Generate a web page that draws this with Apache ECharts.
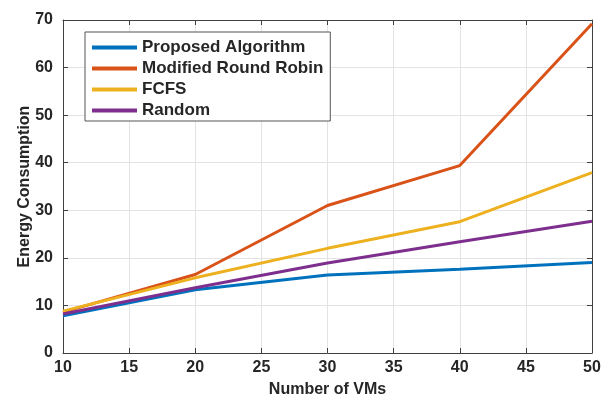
<!DOCTYPE html>
<html>
<head>
<meta charset="utf-8">
<script src="https://cdn.jsdelivr.net/npm/echarts@6/dist/echarts.min.js"></script>
<style>html,body{margin:0;padding:0;background:#fff}#c{width:605px;height:398px}</style>
</head>
<body>
<div id="c"></div>
<script>
var vms = [10, 20, 30, 40, 50];
var proposed = [7.8, 13.3, 16.4, 17.6, 19.0];
var modifiedRR = [8.6, 16.5, 31.0, 39.4, 69.2];
var fcfs = [8.8, 15.8, 22.0, 27.6, 37.9];
var randomAlg = [8.2, 13.7, 18.9, 23.4, 27.7];
var seriesNames = ['Proposed Algorithm', 'Modified Round Robin', 'FCFS', 'Random'];
var colors = ['#0072BD', '#D95319', '#EDB120', '#7E2F8E'];

function pairs(ys) { return vms.map(function (x, i) { return [x, ys[i]]; }); }

var FONT = '"Liberation Sans", Arial, Helvetica, sans-serif';
var axisCol = '#404040';
var textCol = '#262626';

var chart = echarts.init(document.getElementById('c'), null, {renderer: 'canvas'});
var allData = [proposed, modifiedRR, fcfs, randomAlg];
var series = allData.map(function (d, i) {
  return {
    name: seriesNames[i], type: 'line', data: pairs(d), xAxisIndex: 0, yAxisIndex: 0,
    showSymbol: false, symbol: 'none',
    lineStyle: {color: colors[i], width: 3}, itemStyle: {color: colors[i]}
  };
});

chart.setOption({
  animation: false,
  backgroundColor: '#fff',
  color: colors,
  grid: {left: 63, right: 13, top: 20, bottom: 45, containLabel: false, outerBoundsMode: 'none'},
  legend: {
    orient: 'vertical', left: 85, top: 32,
    data: seriesNames,
    icon: 'rect', itemWidth: 45, itemHeight: 4, itemGap: 4,
    padding: [7, 7, 2, 7],
    borderColor: '#555', borderWidth: 1, backgroundColor: '#fff',
    textStyle: {fontFamily: FONT, fontWeight: 'bold', fontSize: 17, color: textCol, lineHeight: 17}
  },
  xAxis: [{
    type: 'value', min: 10, max: 50, interval: 5,
    name: 'Number of VMs', nameLocation: 'middle', nameGap: 29, nameMoveOverlap: false,
    nameTextStyle: {fontFamily: FONT, fontWeight: 'bold', fontSize: 16, color: textCol},
    axisLine: {show: true, lineStyle: {color: axisCol, width: 1}},
    axisTick: {show: true, inside: true, length: 5, lineStyle: {color: axisCol}},
    axisLabel: {fontFamily: FONT, fontWeight: 'bold', fontSize: 16, color: textCol, margin: 7},
    splitLine: {show: true, lineStyle: {color: '#e3e3e3', width: 1}}
  }, {
    type: 'value', position: 'top', min: 10, max: 50, interval: 5,
    axisLine: {show: true, onZero: false, lineStyle: {color: axisCol, width: 1}},
    axisTick: {show: true, inside: true, length: 5, lineStyle: {color: axisCol}},
    axisLabel: {show: false}, splitLine: {show: false}
  }],
  yAxis: [{
    type: 'value', min: 0, max: 70, interval: 10,
    name: 'Energy Consumption', nameLocation: 'middle', nameGap: 30, nameRotate: 90, nameMoveOverlap: false,
    nameTextStyle: {fontFamily: FONT, fontWeight: 'bold', fontSize: 16, color: textCol},
    axisLine: {show: true, lineStyle: {color: axisCol, width: 1}},
    axisTick: {show: true, inside: true, length: 5, lineStyle: {color: axisCol}},
    axisLabel: {fontFamily: FONT, fontWeight: 'bold', fontSize: 16, color: textCol, margin: 10},
    splitLine: {show: true, lineStyle: {color: '#e3e3e3', width: 1}}
  }, {
    type: 'value', position: 'right', min: 0, max: 70, interval: 10,
    axisLine: {show: true, onZero: false, lineStyle: {color: axisCol, width: 1}},
    axisTick: {show: true, inside: true, length: 5, lineStyle: {color: axisCol}},
    axisLabel: {show: false}, splitLine: {show: false}
  }],
  series: series
});
</script>
</body>
</html>
